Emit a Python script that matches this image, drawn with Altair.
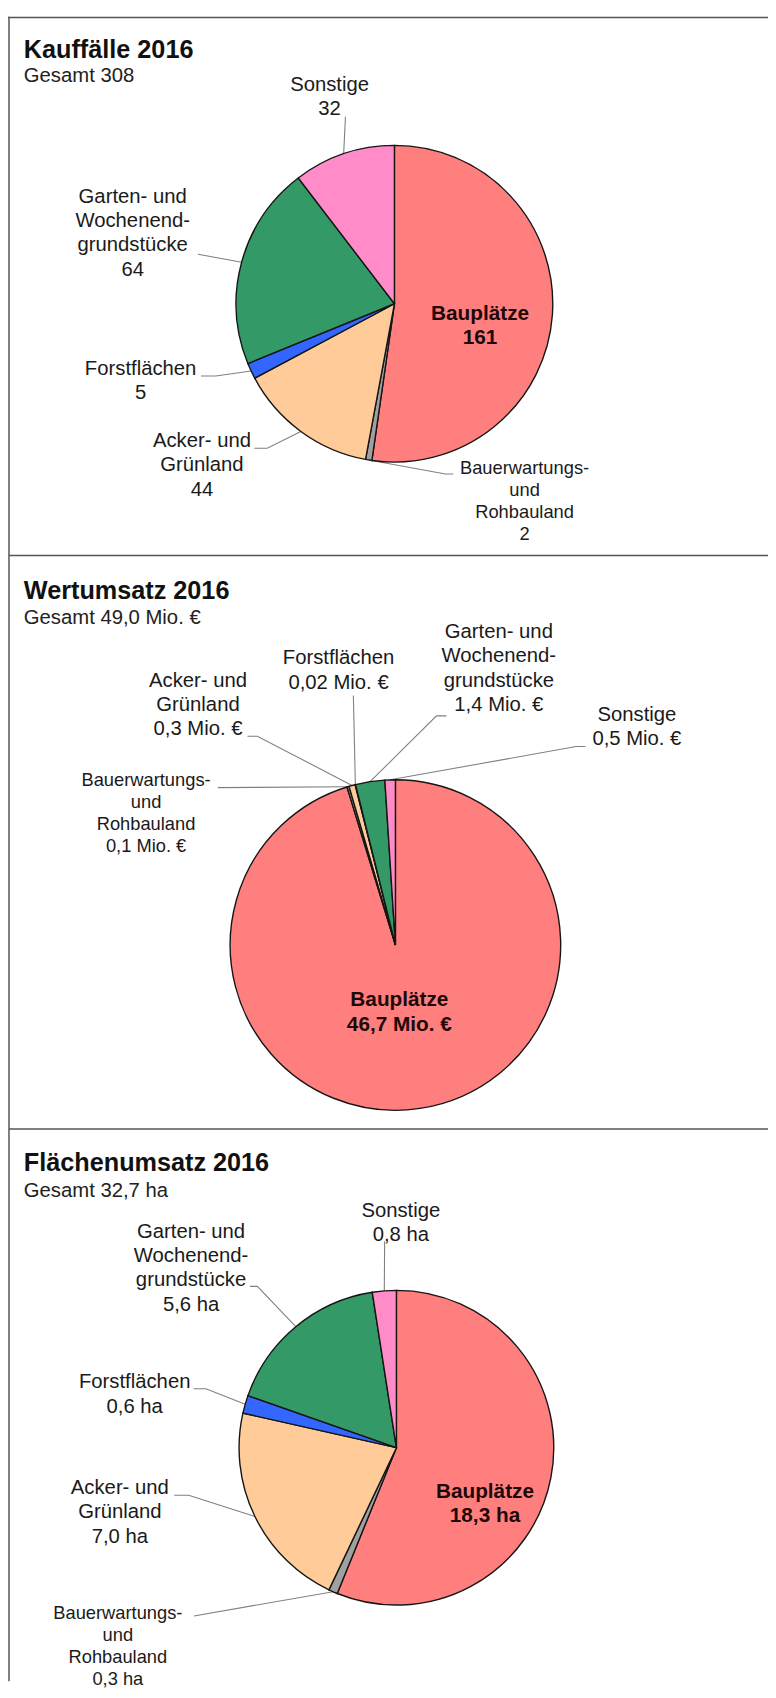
import altair as alt
import numpy as np
import pandas as pd

# ---------------- data ----------------
categories = [
    "Bauplätze",
    "Bauerwartungs- und Rohbauland",
    "Acker- und Grünland",
    "Forstflächen",
    "Garten- und Wochenendgrundstücke",
    "Sonstige",
]
name_lines = [
    ["Bauplätze"],
    ["Bauerwartungs-", "und", "Rohbauland"],
    ["Acker- und", "Grünland"],
    ["Forstflächen"],
    ["Garten- und", "Wochenend-", "grundstücke"],
    ["Sonstige"],
]
kauffaelle = [161, 2, 44, 5, 64, 32]
kauffaelle_txt = ["161", "2", "44", "5", "64", "32"]
wertumsatz = [46.7, 0.1, 0.3, 0.02, 1.4, 0.5]
wertumsatz_txt = ["46,7 Mio. €", "0,1 Mio. €", "0,3 Mio. €", "0,02 Mio. €", "1,4 Mio. €", "0,5 Mio. €"]
flaechenumsatz = [18.3, 0.3, 7.0, 0.6, 5.6, 0.8]
flaechenumsatz_txt = ["18,3 ha", "0,3 ha", "7,0 ha", "0,6 ha", "5,6 ha", "0,8 ha"]
titles = ["Kauffälle 2016", "Wertumsatz 2016", "Flächenumsatz 2016"]
subtitles = ["Gesamt 308", "Gesamt 49,0 Mio. €", "Gesamt 32,7 ha"]

colors = ["#FF7F7F", "#A0A0A0", "#FFCC99", "#3366FF", "#339966", "#FF8CC8"]

series = [kauffaelle, wertumsatz, flaechenumsatz]
series_txt = [kauffaelle_txt, wertumsatz_txt, flaechenumsatz_txt]

# ---------------- layout (page pixels) ----------------
W, H, M = 768, 1682, 8
pie_geom = [(398.5, 298.0, 160.0), (399.5, 946.0, 167.0), (400.5, 1454.0, 159.0)]
title_pos = [(24, 42, 68), (24, 588, 616), (24, 1166, 1195)]
# (centre x, first-line y) of each label
label_pos = [
    [(485, 308), (530, 464), (204, 437), (142, 364), (134, 190), (333, 77)],
    [(403.5, 1002), (147.5, 779), (200, 679), (342, 656.5), (504, 630), (643.5, 713.5)],
    [(490, 1499), (119, 1621), (121, 1495), (136, 1388), (193, 1236), (405, 1215)],
]
LH_BIG, LH_SMALL = 24.5, 22.2
# leader-line way points after the slice edge point (index 0 = inner label, none)
leader_pts = [
    [None, [(450, 470), (458, 470)], [(270, 444), (257, 444)], [(218, 371), (203, 371)],
     [(200, 248)], [(349, 109)]],
    [None, [(220, 787)], [(260, 735), (250, 735)], [(357, 694)],
     [(441, 714.5), (451, 714.5)], [(582, 745.5), (591.5, 745.5)]],
    [None, [(196, 1624)], [(190.6, 1502), (176, 1502)], [(208, 1394.5), (195.5, 1394.5)],
     [(260, 1291), (252.5, 1291)], [(388.6, 1245.5)]],
]
borders = [  # x, y, x2, y2 (chart pixels)
    (0, 0.8, W, 0.8),
    (1, 0, 1, H),
    (1, 544.3, W, 544.3),
    (1, 1124, W, 1124),
]

# ---------------- build tables ----------------
arc_rows, txt_rows, line_rows = [], [], []
seg = 0
for p, (vals, txts) in enumerate(zip(series, series_txt)):
    cx, cy, r = pie_geom[p]
    v = np.array(vals, dtype=float)
    cum = np.cumsum(v)
    mid = (cum - v / 2) / v.sum() * 2 * np.pi
    ex = cx + r * np.sin(mid)
    ey = cy - r * np.cos(mid)
    for i, cat in enumerate(categories):
        arc_rows.append({"panel": p, "cat": cat, "idx": i, "value": vals[i]})
        lx, ly = label_pos[p][i]
        kind = "inner" if i == 0 else ("small" if i == 1 else "outer")
        lh = LH_SMALL if i == 1 else LH_BIG
        for k, line in enumerate(name_lines[i] + [txts[i]]):
            txt_rows.append({"panel": p, "x": lx - M, "y": ly + k * lh - M,
                             "text": line, "kind": kind})
        if leader_pts[p][i]:
            pts = [(ex[i], ey[i])] + leader_pts[p][i]
            for k, (px, py) in enumerate(pts):
                line_rows.append({"seg": seg, "k": k, "x": px - M, "y": py - M})
            seg += 1

arc_df = pd.DataFrame(arc_rows)
txt_df = pd.DataFrame(txt_rows)
line_df = pd.DataFrame(line_rows)
head_rows = []
for p in range(3):
    tx, ty, sy = title_pos[p]
    head_rows.append({"x": tx - M, "y": ty - M, "text": titles[p], "kind": "title"})
    head_rows.append({"x": tx - M, "y": sy - M, "text": subtitles[p], "kind": "sub"})
head_df = pd.DataFrame(head_rows)
border_df = pd.DataFrame(borders, columns=["x", "y", "x2", "y2"])

xs = alt.Scale(domain=[0, W], nice=False, zero=False)
ys = alt.Scale(domain=[0, H], nice=False, zero=False, reverse=True)
FONT = "Liberation Sans"

layers = []
for p in range(3):
    cx, cy, r = pie_geom[p]
    layers.append(
        alt.Chart(arc_df[arc_df.panel == p]).mark_arc(
            outerRadius=r, stroke="#151515", strokeWidth=1.4
        ).encode(
            theta=alt.Theta("value:Q", stack=True),
            color=alt.Color("cat:N", scale=alt.Scale(domain=categories, range=colors), legend=None),
            order=alt.Order("idx:Q"),
            x=alt.value(cx - M),
            y=alt.value(cy - M),
        )
    )

lines = alt.Chart(line_df).mark_line(color="#808080", strokeWidth=1.1).encode(
    x=alt.X("x:Q", scale=xs, axis=None),
    y=alt.Y("y:Q", scale=ys, axis=None),
    detail="seg:N",
    order="k:Q",
)

def text_layer(df, **kw):
    return alt.Chart(df).mark_text(font=FONT, baseline="middle", **kw).encode(
        x=alt.X("x:Q", scale=xs, axis=None),
        y=alt.Y("y:Q", scale=ys, axis=None),
        text="text:N",
    )

outer = text_layer(txt_df[txt_df.kind == "outer"], fontSize=20.5, align="center", color="#1a1a1a")
small = text_layer(txt_df[txt_df.kind == "small"], fontSize=18.5, align="center", color="#1a1a1a")
inner = text_layer(txt_df[txt_df.kind == "inner"], fontSize=21, fontWeight="bold",
                   align="center", color="#200808")
title = text_layer(head_df[head_df.kind == "title"], fontSize=25.5, fontWeight="bold",
                   align="left", color="#111111")
sub = text_layer(head_df[head_df.kind == "sub"], fontSize=20.5, align="left", color="#222222")

border = alt.Chart(border_df).mark_rule(color="#555555", strokeWidth=1.5).encode(
    x=alt.X("x:Q", scale=xs, axis=None),
    y=alt.Y("y:Q", scale=ys, axis=None),
    x2="x2:Q",
    y2="y2:Q",
)

chart = alt.layer(border, lines, *layers, outer, small, inner, title, sub).resolve_scale(
    theta="independent"
).properties(
    width=W, height=H, padding=0, autosize=alt.AutoSizeParams(type="none"),
    background="white",
).configure_view(stroke=None)

chart.save("out.html", embed_options={"renderer": "svg", "actions": False})
